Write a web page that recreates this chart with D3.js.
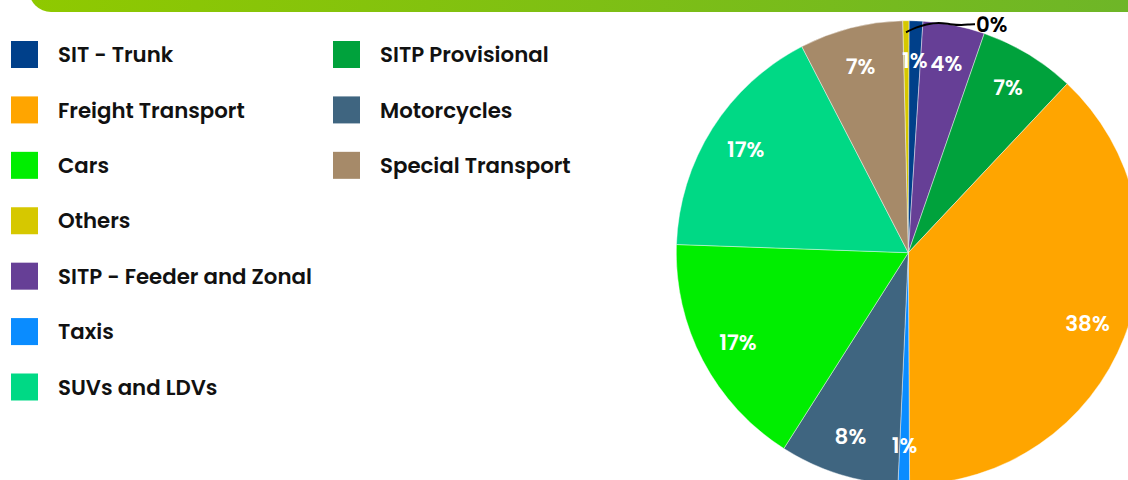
<!DOCTYPE html>
<html><head><meta charset="utf-8">
<script src="https://cdn.jsdelivr.net/npm/d3@7"></script>
<style>html,body{margin:0;padding:0;background:#fff;overflow:hidden}</style>
</head><body><svg id="c" width="1128" height="480"></svg>
<script>
// Slice order (clockwise from top)
const categories = ["Others","SIT - Trunk","SITP - Feeder and Zonal","SITP Provisional","Freight Transport","Taxis","Motorcycles","Cars","SUVs and LDVs","Special Transport"];
const shares = [0.45,0.95,4.3,6.7,37.9,0.8,8.3,16.55,16.85,7.2];
const pctLabels = ["0%","1%","4%","7%","38%","1%","8%","17%","17%","7%"];
const sliceColors = ["#d6c800","#00408a","#663f96","#00a23c","#ffa500","#0a8cff","#3f6580","#00ee00","#00d985","#a68a69"];
// Legend order
const legendOrder = ["SIT - Trunk","Freight Transport","Cars","Others","SITP - Feeder and Zonal","Taxis","SUVs and LDVs","SITP Provisional","Motorcycles","Special Transport"];

const W = 1128, H = 480;
const svg = d3.select("#c");
const FONT = "Poppins, 'Open Sans', sans-serif";

// top banner
const defs = svg.append("defs");
const g1 = defs.append("linearGradient").attr("id","bar").attr("x1","0").attr("x2","1").attr("y1","0").attr("y2","0");
g1.append("stop").attr("offset","0").attr("stop-color","#8fc900");
g1.append("stop").attr("offset","1").attr("stop-color","#6bb42b");
svg.append("rect").attr("x",29).attr("y",-40).attr("width",1200).attr("height",52).attr("rx",22).attr("fill","url(#bar)");

const color = d3.scaleOrdinal().domain(categories).range(sliceColors);
const data = categories.map((c,i)=>({name:c, value:shares[i], label:pctLabels[i]}));

const cx = 908.3, cy = 252.7, R = 232;
const start = -1.4 * Math.PI/180;
const pie = d3.pie().sort(null).value(d=>d.value).startAngle(start).endAngle(start + 2*Math.PI);
const arcs = pie(data);
const arc = d3.arc().innerRadius(0).outerRadius(R);
const labelArc = d3.arc().innerRadius(R*0.83).outerRadius(R*0.83);

const pg = svg.append("g").attr("transform",`translate(${cx},${cy})`);
pg.selectAll("path.s").data(arcs).join("path").attr("class","s")
  .attr("d",arc).attr("fill",d=>color(d.data.name))
  .attr("stroke","#ffffff").attr("stroke-width",0.6).attr("stroke-opacity",0.7);

const inside = arcs.filter(d=>d.data.value >= 0.5);
pg.selectAll("text.l").data(inside).join("text").attr("class","l")
  .attr("transform",d=>`translate(${labelArc.centroid(d)})`)
  .attr("text-anchor","middle").attr("dy","0.35em")
  .attr("fill","#fff").attr("font-family",FONT).attr("font-weight",600).attr("font-size",21.5)
  .text(d=>d.data.label);

// outside label with leader for tiny slice
const outside = arcs.filter(d=>d.data.value < 0.5);
outside.forEach(d=>{
  const a = (d.startAngle + d.endAngle)/2;
  const r0 = R*0.95;
  const sx = Math.sin(a)*r0, sy = -Math.cos(a)*r0;
  const pts = [[0,0],[10,-5],[20,-8],[33,-10],[44,-8],[56,-7],[64,-8],[69,-8]].map(p=>[sx+p[0], sy+p[1]]);
  pg.append("path").attr("d", d3.line().curve(d3.curveBasis)(pts))
    .attr("fill","none").attr("stroke","#000").attr("stroke-width",2);
  pg.append("text").attr("x", sx+70).attr("y", sy-8).attr("dy","0.35em")
    .attr("fill","#000").attr("font-family",FONT).attr("font-weight",600).attr("font-size",21.3)
    .text(d.data.label);
});

// legend
const perCol = 7;
const rowY = d3.scaleLinear().domain([0,6]).range([54.5,387]);
const colX = [11, 333];
const lg = svg.append("g");
const items = lg.selectAll("g").data(legendOrder).join("g")
  .attr("transform",(d,i)=>`translate(${colX[Math.floor(i/perCol)]},${rowY(i%perCol)})`);
items.append("rect").attr("x",0).attr("y",-13.5).attr("width",27).attr("height",27).attr("fill",d=>color(d));
items.append("text").attr("x",47).attr("dy","0.36em")
  .attr("font-family",FONT).attr("font-weight",600).attr("font-size",21.3).attr("fill","#111")
  .text(d=>d);
</script></body></html>
